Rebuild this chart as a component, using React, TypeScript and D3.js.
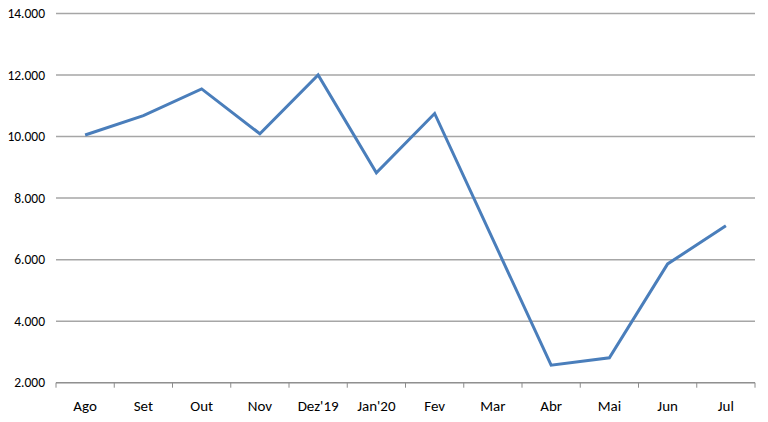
import React from "react";
import * as d3 from "d3";

const categories = ["Ago", "Set", "Out", "Nov", "Dez'19", "Jan'20", "Fev", "Mar", "Abr", "Mai", "Jun", "Jul"];
const values = [10050, 10680, 11550, 10090, 12000, 8820, 10750, 6660, 2570, 2810, 5860, 7100];
const yTicks = [2000, 4000, 6000, 8000, 10000, 12000, 14000];

const W = 768;
const H = 422;
const left = 56;
const right = 755;
const top = 13.5;
const bottom = 382.7;

export default function App() {
  const x = d3.scaleBand<string>().domain(categories).range([left, right]).padding(0);
  const y = d3.scaleLinear().domain([2000, 14000]).range([bottom, top]);
  const fmt = (v: number) => d3.format(",")(v).replace(/,/g, ".");
  const line = d3
    .line<number>()
    .x((_, i) => (x(categories[i]) as number) + x.bandwidth() / 2)
    .y((d) => y(d));
  const tickXs = categories.map((c) => x(c) as number).concat([right]);

  return (
    <svg
      width={W}
      height={H}
      style={{ position: "absolute", left: 0, top: 0, background: "#fff" }}
      fontFamily="Carlito, 'Open Sans', 'Liberation Sans', sans-serif"
    >
      {yTicks.map((t) => (
        <g key={t}>
          <line x1={left} x2={right} y1={y(t)} y2={y(t)} stroke="#a6a6a6" strokeWidth={1.5} />
          <text x={45} y={y(t)} dy="0.35em" textAnchor="end" fontSize={13.5} fill="#000">
            {fmt(t)}
          </text>
        </g>
      ))}
      <line x1={left} x2={right} y1={bottom} y2={bottom} stroke="#8c8c8c" strokeWidth={1} />
      {tickXs.map((tx, i) => (
        <line key={i} x1={tx} x2={tx} y1={bottom} y2={bottom + 5} stroke="#8c8c8c" strokeWidth={1} />
      ))}
      {categories.map((c) => (
        <text
          key={c}
          x={(x(c) as number) + x.bandwidth() / 2}
          y={406}
          dy="0.35em"
          textAnchor="middle"
          fontSize={15}
          fill="#000"
        >
          {c}
        </text>
      ))}
      <path d={line(values) || ""} fill="none" stroke="#4a7ebb" strokeWidth={3} strokeLinejoin="miter" />
    </svg>
  );
}
